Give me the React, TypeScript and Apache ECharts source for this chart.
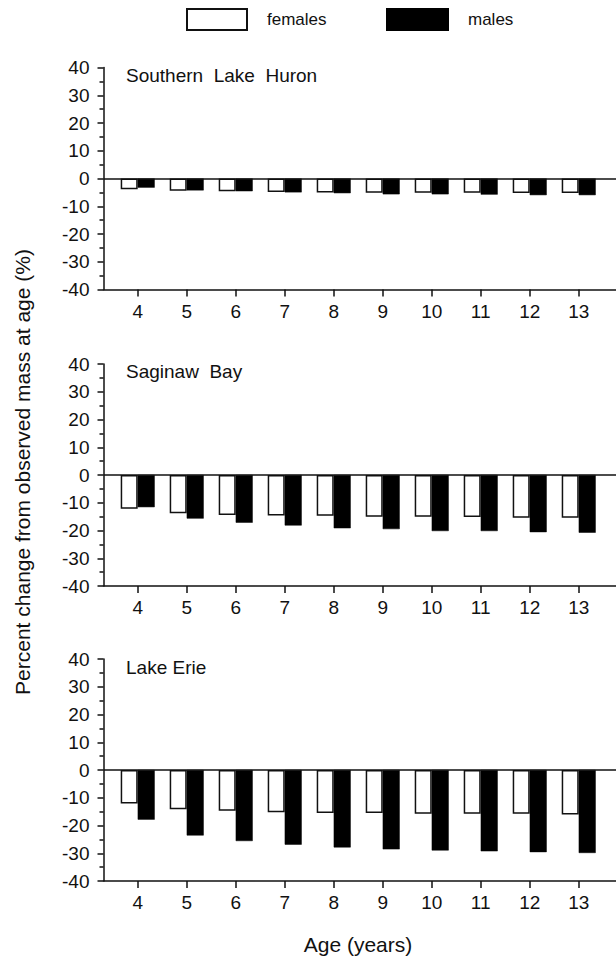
import React, { useEffect, useRef } from "react";
import * as echarts from "echarts";

const ages = [4, 5, 6, 7, 8, 9, 10, 11, 12, 13];
const panelTitles = ["Southern  Lake  Huron", "Saginaw  Bay", "Lake Erie"];
const yTicks = [-40, -30, -20, -10, 0, 10, 20, 30, 40];

const huronFemales = [-3.9, -4.4, -4.6, -4.9, -5.0, -5.1, -5.1, -5.1, -5.2, -5.2];
const huronMales = [-3.3, -4.3, -4.6, -5.0, -5.3, -5.7, -5.7, -5.8, -6.0, -6.0];
const saginawFemales = [-12.2, -13.8, -14.4, -14.6, -14.7, -15.0, -15.0, -15.1, -15.4, -15.4];
const saginawMales = [-11.6, -15.7, -17.2, -18.2, -19.2, -19.5, -20.2, -20.2, -20.6, -20.8];
const erieFemales = [-12.1, -14.1, -14.7, -15.2, -15.5, -15.5, -15.8, -15.8, -15.8, -16.0];
const erieMales = [-17.9, -23.6, -25.6, -26.9, -27.9, -28.6, -29.0, -29.3, -29.6, -29.9];

const femalesByPanel = [huronFemales, saginawFemales, erieFemales];
const malesByPanel = [huronMales, saginawMales, erieMales];

const FONT = "'Liberation Sans', Arial, sans-serif";
const INK = "#111";

export default function App() {
  const ref = useRef<HTMLDivElement>(null);

  useEffect(() => {
    if (!ref.current) return;
    const chart = echarts.init(ref.current, null, { renderer: "svg" });

    const gridTops = [67.5, 364, 659];
    const gridHeight = 222;

    const grids = gridTops.map((t) => ({
      left: 103.5,
      right: 0,
      top: t,
      height: gridHeight,
      containLabel: false,
    }));

    const xAxes = gridTops.map((_, i) => ({
      type: "value",
      gridIndex: i,
      min: 3.302,
      max: 13.761,
      splitLine: { show: false },
      axisLine: { show: true, onZero: false, lineStyle: { color: INK, width: 1.5 } },
      axisTick: {
        show: true,
        length: 7,
        customValues: ages,
        lineStyle: { color: INK, width: 1.5 },
      },
      axisLabel: {
        show: true,
        customValues: ages,
        margin: 12,
        fontSize: 19,
        fontFamily: FONT,
        color: INK,
      },
    }));

    const yAxes = gridTops.map((_, i) => ({
      type: "value",
      gridIndex: i,
      min: -40,
      max: 40,
      interval: 10,
      splitLine: { show: false },
      axisLine: { show: true, lineStyle: { color: INK, width: 1.5 } },
      axisTick: { show: true, length: 6, lineStyle: { color: INK, width: 1.5 } },
      minorTick: { show: true, splitNumber: 2, length: 4, lineStyle: { color: INK, width: 1.5 } },
      axisLabel: {
        margin: 14,
        fontSize: 19,
        fontFamily: FONT,
        color: INK,
        customValues: yTicks,
      },
    }));

    const series: any[] = [];
    gridTops.forEach((_, i) => {
      series.push({
        type: "bar",
        name: "females",
        xAxisIndex: i,
        yAxisIndex: i,
        barWidth: 17,
        barGap: "0%",
        data: ages.map((a, k) => [a, femalesByPanel[i][k]]),
        itemStyle: { color: "#fff", borderColor: INK, borderWidth: 1.5 },
        markLine: {
          silent: true,
          symbol: "none",
          label: { show: false },
          lineStyle: { color: INK, width: 1.5, type: "solid" },
          data: [{ yAxis: 0 }],
        },
      });
      series.push({
        type: "bar",
        name: "males",
        xAxisIndex: i,
        yAxisIndex: i,
        barWidth: 17,
        barGap: "0%",
        data: ages.map((a, k) => [a, malesByPanel[i][k]]),
        itemStyle: { color: "#000", borderColor: "#000", borderWidth: 0.5 },
      });
    });

    const titleTops = [66, 362, 658];

    chart.setOption({
      animation: false,
      backgroundColor: "#fff",
      title: panelTitles.map((t, i) => ({
        text: t,
        left: 126,
        top: titleTops[i],
        padding: 0,
        textStyle: { fontSize: 19, fontWeight: "normal", fontFamily: FONT, color: INK },
      })),
      legend: [
        {
          data: ["females"],
          left: 186,
          top: 8,
          padding: 0,
          icon: "rect",
          itemWidth: 60,
          itemHeight: 21,
          selectedMode: false,
          textStyle: { fontSize: 17, fontFamily: FONT, color: INK, padding: [0, 0, 0, 15] },
        },
        {
          data: ["males"],
          left: 386,
          top: 8,
          padding: 0,
          icon: "rect",
          itemWidth: 61,
          itemHeight: 21,
          selectedMode: false,
          textStyle: { fontSize: 17, fontFamily: FONT, color: INK, padding: [0, 0, 0, 15] },
        },
      ],
      grid: grids,
      xAxis: xAxes,
      yAxis: yAxes,
      series,
      graphic: [
        {
          type: "text",
          x: 22,
          y: 472,
          rotation: Math.PI / 2,
          style: {
            text: "Percent change from observed mass at age (%)",
            fontSize: 21,
            fontFamily: FONT,
            fill: INK,
            align: "center",
            verticalAlign: "middle",
          },
        },
        {
          type: "text",
          x: 358,
          y: 944,
          style: {
            text: "Age (years)",
            fontSize: 21,
            fontFamily: FONT,
            fill: INK,
            align: "center",
            verticalAlign: "middle",
          },
        },
      ],
    });

    return () => chart.dispose();
  }, []);

  return (
    <div
      ref={ref}
      style={{ position: "fixed", left: 0, top: 0, width: 616, height: 956, background: "#fff" }}
    />
  );
}
